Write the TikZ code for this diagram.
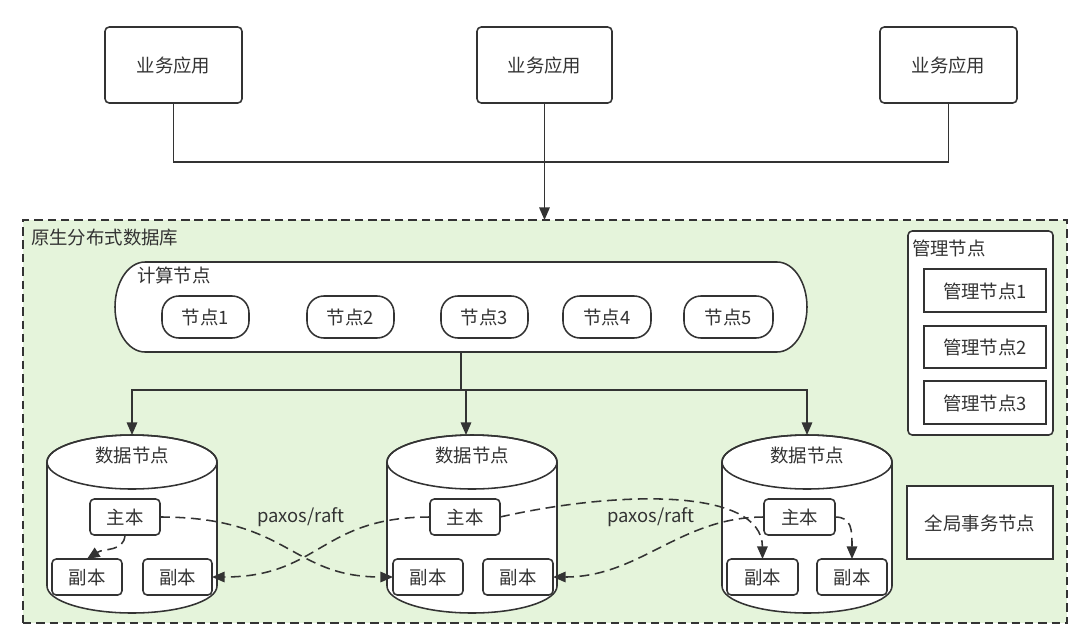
\documentclass[tikz,border=0pt]{standalone}
\usepackage{fontspec}
\setmainfont{Noto Sans CJK SC}
\usetikzlibrary{arrows.meta}
\definecolor{ink}{HTML}{333333}
\definecolor{dbgreen}{HTML}{E5F4DB}
% box placed by its corners: style, x1, y1, x2, y2, name
\newcommand\boxat[6]{\node[#1, minimum width={(#4-#2)*0.025cm}, minimum height={(#5-#3)*0.025cm}] (#6) at ({(#2+#4)/2},{(#3+#5)/2})}
\begin{document}
\begin{tikzpicture}[x=0.025cm,y=-0.025cm,
  font=\fontsize{13.1pt}{15pt}\selectfont, text=ink,
  every node/.style={inner sep=0pt, outer sep=0pt, text height=1.1em, text depth=0em},
  line/.style={draw=ink, line width=1.1pt},
  box/.style={line, fill=white},
  rbox/.style={box, rounded corners=3pt},
  pillbox/.style={box, rounded corners=12pt},
  arr/.style={line, -{Triangle[length=9pt,width=7.5pt]}},
  darr/.style={line, dash pattern=on 7pt off 4pt, -{Triangle[length=9pt,width=7.5pt]}},
  cylbody/.style={line, fill=white},
  dbbox/.style={draw=ink, line width=1.1pt, dash pattern=on 6pt off 3.5pt, fill=dbgreen},
  lbl/.style={anchor=west}]
\useasboundingbox (0,0) rectangle (1080,633);

% top applications
\boxat{rbox}{105}{27}{242}{103}{app1} {业务应用};
\boxat{rbox}{477}{27}{612}{103}{app2} {业务应用};
\boxat{rbox}{880}{27}{1017}{103}{app3} {业务应用};

% outer database container
\boxat{dbbox}{23}{220}{1067}{623}{db} {};
\node[lbl] (dbtitle) at (31,237) {原生分布式数据库};

\coordinate (bus) at (545,162);
\draw[line] (app1.south) |- (bus) -| (app3.south);
\draw[arr] (app2.south) -- (app2.south |- db.north);

% compute layer
\draw[line, fill=white] (145,262) -- (777,262) arc[start angle=-90,end angle=90,x radius=30,y radius=45]
  -- (145,352) arc[start angle=90,end angle=270,x radius=30,y radius=45] -- cycle;
\boxat{}{115}{262}{807}{352}{comp} {};
\node[lbl] (complbl) at (137,275) {计算节点};
\boxat{pillbox}{162}{296}{249}{338}{n1} {节点1};
\boxat{pillbox}{307}{296}{394}{338}{n2} {节点2};
\boxat{pillbox}{441}{296}{528}{338}{n3} {节点3};
\boxat{pillbox}{563}{296}{651}{338}{n4} {节点4};
\boxat{pillbox}{684}{296}{773}{338}{n5} {节点5};

% management
\boxat{rbox}{908}{231}{1053}{435}{mg} {};
\node[lbl] (mglbl) at (912,248) {管理节点};
\boxat{box}{924}{269}{1046}{312}{mg1} {管理节点1};
\boxat{box}{924}{326}{1046}{368}{mg2} {管理节点2};
\boxat{box}{924}{381}{1046}{424}{mg3} {管理节点3};

% global transaction
\boxat{box}{907}{486}{1053}{559}{gtx} {全局事务节点};

% data node cylinders
\foreach \cx in {47,387,722}{
  \draw[cylbody] (\cx,462) -- (\cx,586) arc[start angle=180,end angle=0,x radius=85,y radius=27]
    -- ({\cx+170},462) arc[start angle=0,end angle=-180,x radius=85,y radius=27] -- cycle;
  \draw[line] ({\cx+85},462) ellipse[x radius=85,y radius=27];
}
\node (dn1) at (132,455) {数据节点};
\node (dn2) at (472,455) {数据节点};
\node (dn3) at (807,455) {数据节点};
\coordinate (c1top) at (132,435);
\coordinate (c2in) at (466,435);
\coordinate (c3top) at (807,435);

\coordinate (split) at (461,390);
\draw[line] (comp.south) -- (split);
\draw[arr] (split) -| (c1top);
\draw[arr] (split) -| (c3top);
\draw[arr] (split -| c2in) -- (c2in);

% replicas
\boxat{rbox}{90}{499}{160}{535}{m1} {主本};
\boxat{rbox}{52}{559}{122}{595}{r1a} {副本};
\boxat{rbox}{143}{559}{212}{595}{r1b} {副本};
\boxat{rbox}{430}{499}{500}{535}{m2} {主本};
\boxat{rbox}{393}{559}{463}{595}{r2a} {副本};
\boxat{rbox}{483}{559}{553}{595}{r2b} {副本};
\boxat{rbox}{764}{499}{835}{535}{m3} {主本};
\boxat{rbox}{727}{559}{798}{595}{r3a} {副本};
\boxat{rbox}{817}{559}{887}{595}{r3b} {副本};

\node (px1) at (301,515) {paxos/raft};
\node (px2) at (651,515) {paxos/raft};

% replication flows
\draw[darr] (m1.south) .. controls (124,552) and (104,548) .. (r1a.north);
\draw[darr] (m1.east) .. controls (290,517) and (290,577) .. (r2a.west);
\draw[darr] (m2.west) .. controls (320,517) and (320,577) .. (r1b.east);
\draw[darr] (m2.east) .. controls (620,490) and (762,488) .. (r3a.north);
\draw[darr] (m3.west) .. controls (680,517) and (640,577) .. (r2b.east);
\draw[darr] (m3.east) .. controls (852,517) and (852,530) .. (r3b.north);
\end{tikzpicture}
\end{document}
